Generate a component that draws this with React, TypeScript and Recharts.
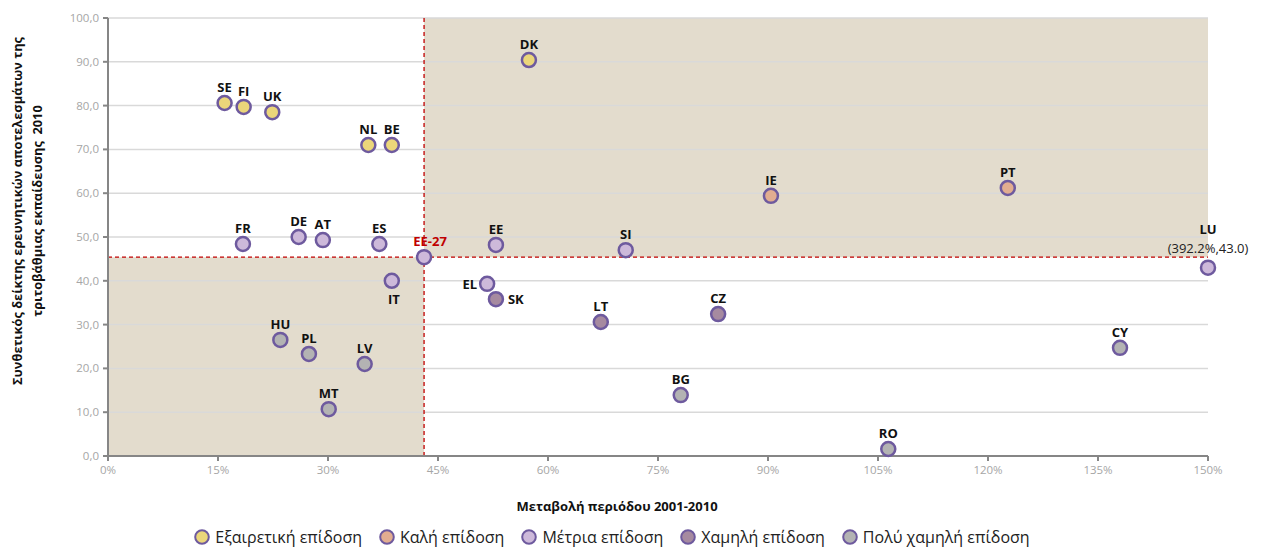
import { ReferenceArea, ReferenceLine, Scatter, ScatterChart, XAxis, YAxis } from "recharts";

const countries = ["SE", "FI", "UK", "NL", "BE", "DK", "IE", "PT", "FR", "DE", "AT", "ES", "EE-27", "IT", "EE", "SI", "EL", "SK", "LT", "CZ", "LU", "CY", "BG", "RO", "HU", "PL", "LV", "MT"];
const change = [15.9, 18.5, 22.4, 35.5, 38.7, 57.4, 90.4, 122.7, 18.4, 26.0, 29.3, 37.0, 43.1, 38.7, 52.9, 70.6, 51.7, 52.9, 67.2, 83.2, 392.2, 138.0, 78.1, 106.4, 23.5, 27.4, 35.0, 30.1];
const score = [80.6, 79.7, 78.5, 71.0, 71.0, 90.4, 59.4, 61.2, 48.4, 50.0, 49.3, 48.4, 45.4, 40.0, 48.2, 47.0, 39.3, 35.8, 30.6, 32.4, 43.0, 24.7, 13.9, 1.6, 26.5, 23.3, 21.0, 10.7];
const group = [0, 0, 0, 0, 0, 0, 1, 1, 2, 2, 2, 2, 2, 2, 2, 2, 2, 3, 3, 3, 2, 4, 4, 4, 4, 4, 4, 4];
const groupNames = ["Εξαιρετική επίδοση", "Καλή επίδοση", "Μέτρια επίδοση", "Χαμηλή επίδοση", "Πολύ χαμηλή επίδοση"];
const xTicks = [0, 15, 30, 45, 60, 75, 90, 105, 120, 135, 150];
const yTicks = [0, 10, 20, 30, 40, 50, 60, 70, 80, 90, 100];
const euChange = 43.1;
const euScore = 45.4;
const xMax = 150;

const fills = ["#EBD67A", "#E2AD90", "#CDB9DA", "#A68AA0", "#B3B3B3"];
const ring = "#6E5A9E";
const font = "'Open Sans', 'Noto Sans', sans-serif";

// label placement per country (default: above the marker)
const labelPos: Record<string, { dx: number; dy: number; anchor: string }> = {
  IT: { dx: 2, dy: 23, anchor: "middle" },
  EL: { dx: -10, dy: 5, anchor: "end" },
  SK: { dx: 12, dy: 5, anchor: "start" },
  "EE-27": { dx: 6, dy: -11, anchor: "middle" },
  LU: { dx: 0, dy: -34, anchor: "middle" },
};

const series = groupNames.map((_, g) =>
  countries
    .map((name, i) => ({ name, x: Math.min(change[i], xMax), y: score[i], raw: change[i], g: group[i] }))
    .filter((d) => d.g === g)
);

function Dot(props: any) {
  const { cx, cy, payload } = props;
  const p = labelPos[payload.name] ?? { dx: 0, dy: -11, anchor: "middle" };
  const red = payload.name === "EE-27";
  return (
    <g>
      <circle cx={cx} cy={cy} r={7} fill={fills[payload.g]} stroke={ring} strokeWidth={2.5} />
      {payload.raw > xMax && (
        <text x={cx} y={cy - 15} textAnchor="middle" fontSize={13} fill="#222" fontFamily={font}>
          ({payload.raw.toFixed(1)}%,{payload.y.toFixed(1)})
        </text>
      )}
      <text
        x={cx + p.dx}
        y={cy + p.dy}
        textAnchor={p.anchor}
        fontSize={13}
        fontWeight="bold"
        fill={red ? "#C00000" : "#111"}
        fontFamily={font}
      >
        {payload.name}
      </text>
    </g>
  );
}

export default function App() {
  return (
    <div style={{ position: "relative", width: 1250, height: 539, fontFamily: font }}>
      <ScatterChart width={1250} height={520} margin={{ top: 10, right: 50, bottom: 42, left: 50 }}>
        <ReferenceArea x1={0} x2={euChange} y1={0} y2={euScore} fill="#E3DCCD" fillOpacity={1} stroke="none" />
        <ReferenceArea x1={euChange} x2={xMax} y1={euScore} y2={100} fill="#E3DCCD" fillOpacity={1} stroke="none" />
        {yTicks.slice(1).map((t) => (
          <ReferenceLine key={t} y={t} stroke="#D9D9D9" strokeWidth={1.5} />
        ))}
        <ReferenceLine x={euChange} stroke="#C00000" strokeWidth={1.3} strokeDasharray="4 3" />
        <ReferenceLine y={euScore} stroke="#C00000" strokeWidth={1.3} strokeDasharray="4 3" />
        <XAxis
          type="number"
          dataKey="x"
          domain={[0, xMax]}
          ticks={xTicks}
          height={30}
          stroke="#868686"
          strokeWidth={2}
          tickSize={5}
          tickMargin={5}
          tick={{ fontSize: 11.5, fill: "#A6A6A6", fontFamily: font }}
          tickFormatter={(v: number) => `${v}%`}
        />
        <YAxis
          type="number"
          dataKey="y"
          domain={[0, 100]}
          ticks={yTicks}
          width={50}
          stroke="#868686"
          strokeWidth={2}
          tickSize={5}
          tickMargin={4}
          tick={{ fontSize: 11.5, fill: "#A6A6A6", fontFamily: font }}
          tickFormatter={(v: number) => v.toFixed(1).replace(".", ",")}
        />
        {series.map((d, g) => (
          <Scatter key={g} name={groupNames[g]} data={d} shape={Dot} isAnimationActive={false} />
        ))}
      </ScatterChart>
      <div
        style={{
          position: "absolute",
          left: 19 - 200,
          top: 203 - 20,
          width: 400,
          height: 40,
          transform: "rotate(-90deg)",
          textAlign: "center",
          fontWeight: "bold",
          fontSize: 12.8,
          lineHeight: "20px",
          color: "#111",
        }}
      >
        Συνθετικός δείκτης ερευνητικών αποτελεσμάτων της
        <br />
        τριτοβάθμιας εκπαίδευσης&nbsp; 2010
      </div>
      <div
        style={{
          position: "absolute",
          left: 409,
          width: 400,
          top: 489,
          textAlign: "center",
          fontWeight: "bold",
          fontSize: 13,
          color: "#111",
        }}
      >
        Μεταβολή περιόδου 2001-2010
      </div>
      <div
        style={{
          position: "absolute",
          left: 0,
          width: 1208,
          top: 519,
          height: 20,
          display: "flex",
          justifyContent: "center",
          alignItems: "center",
          gap: 17,
          fontSize: 16,
          color: "#222",
        }}
      >
        {groupNames.map((n, g) => (
          <div key={n} style={{ display: "flex", alignItems: "center", gap: 5 }}>
            <svg width={16} height={16}>
              <circle cx={8} cy={8} r={6.8} fill={fills[g]} stroke={ring} strokeWidth={2} />
            </svg>
            <span>{n}</span>
          </div>
        ))}
      </div>
    </div>
  );
}
